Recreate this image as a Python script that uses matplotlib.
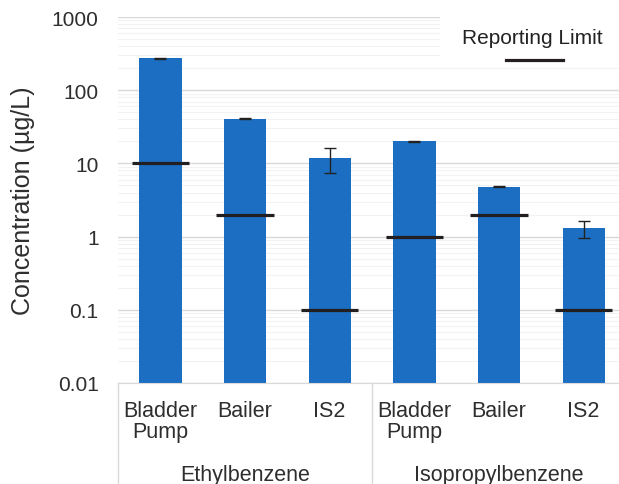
import numpy as np
import matplotlib
matplotlib.use("Agg")
import matplotlib.pyplot as plt
from matplotlib.patches import Rectangle
from matplotlib.lines import Line2D
from matplotlib.ticker import FixedLocator, FixedFormatter, LogLocator, NullFormatter

plt.rcParams['font.family'] = ['Liberation Sans', 'DejaVu Sans']

# data
groups = ["Ethylbenzene", "Isopropylbenzene"]
methods = ["Bladder\nPump", "Bailer", "IS2", "Bladder\nPump", "Bailer", "IS2"]
conc = [275, 41, 11.8, 20, 4.8, 1.3]
conc_err = [4, 0.6, 4.3, 0.3, 0.1, 0.33]
report_limit = [10, 2, 0.1, 1, 2, 0.1]
y_ticks = [0.01, 0.1, 1, 10, 100, 1000]
y_tick_labels = ["0.01", "0.1", "1", "10", "100", "1000"]

bar_color = '#1b6ec2'
text_color = '#2e2e2e'
grid_color = '#d9d9d9'

fig = plt.figure(figsize=(6.19, 4.85), dpi=100)
W, H = 619, 485
ax = fig.add_axes([118 / W, (H - 384) / H, (626 - 118) / W, (384 - 18) / H])

x = np.arange(len(conc))
ax.bar(x, conc, width=0.5, color=bar_color, zorder=2,
       yerr=conc_err, error_kw=dict(ecolor='#222222', elinewidth=1, capsize=4, capthick=1))
ax.hlines(report_limit, x - 0.34, x + 0.34, colors='#231f20', linewidth=2.3, zorder=3)

# axes setup
ax.set_yscale('log')
ax.set_ylim(0.01, 1000)
ax.set_xlim(-0.5, 5.5)
ax.yaxis.set_major_locator(FixedLocator(y_ticks))
ax.yaxis.set_major_formatter(FixedFormatter(y_tick_labels))
ax.yaxis.set_minor_locator(LogLocator(base=10, subs=np.arange(2, 10)))
ax.yaxis.set_minor_formatter(NullFormatter())
ax.grid(True, which='major', axis='y', color=grid_color, linewidth=1, zorder=0)
ax.grid(True, which='minor', axis='y', color='#f2f2f2', linewidth=0.8, zorder=0)
ax.set_axisbelow(True)
for s in ['top', 'right', 'left']:
    ax.spines[s].set_visible(False)
ax.spines['bottom'].set_color(grid_color)
ax.tick_params(axis='y', which='both', length=0, pad=14, labelsize=15, labelcolor=text_color)
ax.tick_params(axis='x', length=0, pad=12, labelsize=15.5, labelcolor=text_color)
ax.set_xticks(x)
ax.set_xticklabels(methods, linespacing=1.05)
ax.set_ylabel("Concentration (µg/L)", fontsize=18, color=text_color)
ax.yaxis.set_label_coords(-0.163, 0.5)

# group labels and separators
for i, g in enumerate(groups):
    ax.text(i * 3 + 1, -0.25, g, transform=ax.get_xaxis_transform(),
            ha='center', va='center', fontsize=15.5, color=text_color)
for xs in [-0.5, 2.5, 5.5]:
    ax.plot([xs, xs], [0, -0.3], transform=ax.get_xaxis_transform(),
            color=grid_color, linewidth=1, clip_on=False)

# legend box
ax.add_patch(Rectangle((0.634, 0.863), 0.4, 0.2, transform=ax.transAxes,
                       facecolor='white', edgecolor='none', zorder=1.5, clip_on=False))
ax.text(0.815, 0.945, "Reporting Limit", transform=ax.transAxes, ha='center', va='center',
        fontsize=15, color='#222222', zorder=4)
ax.add_line(Line2D([0.764, 0.876], [0.8825, 0.8825], transform=ax.transAxes,
                   color='#231f20', linewidth=2.3, zorder=4))

fig.savefig("out.png", dpi=100)
